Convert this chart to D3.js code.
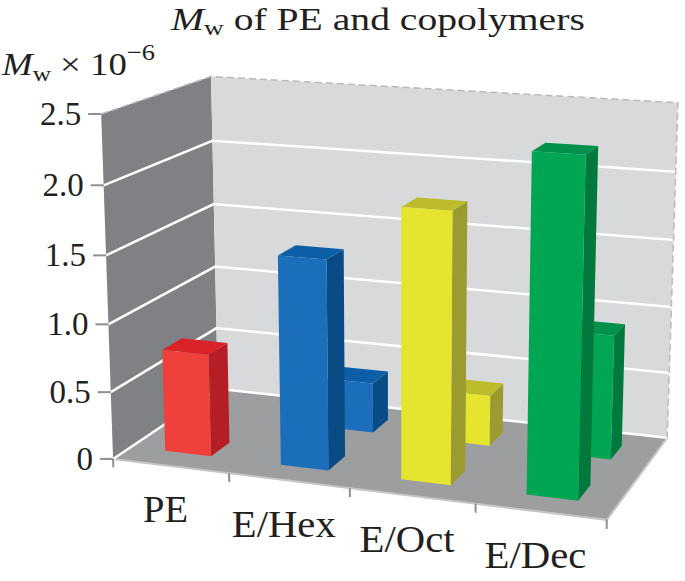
<!DOCTYPE html>
<html>
<head>
<meta charset="utf-8">
<script src="https://cdn.jsdelivr.net/npm/d3@7"></script>
<style>
  body { margin: 0; background: #fff; }
  text { font-family: "Liberation Serif", "Times New Roman", serif; fill: #231f20; }
</style>
</head>
<body>
<script>
// data
const categories = ["PE", "E/Hex", "E/Oct", "E/Dec"];
const rows = ["front", "back"];
const frontValues = [0.76, 1.53, 1.94, 2.38];
const backValues = [null, 0.38, 0.38, 0.92];
const yTicks = [0, 0.5, 1.0, 1.5, 2.0, 2.5];
const yTickLabels = ["0", "0.5", "1.0", "1.5", "2.0", "2.5"];

// colours: front face, top face, side face
const barColors = {
  "PE": ["#ef403c", "#d92329", "#b41e24"],
  "E/Hex": ["#1b6fba", "#0c5ea6", "#084b85"],
  "E/Oct": ["#e5e42f", "#bdbd2c", "#9c9b30"],
  "E/Dec": ["#00a651", "#00924a", "#007a3c"]
};

// layout
const width = 685;
const height = 581;
// label widths as printed (the reference type is set a little wide)
const labelWidths = { "PE": 45, "E/Hex": 104, "E/Oct": 95, "E/Dec": 102 };

// camera anchors: box corner (u, v, w) -> picture point (x, y)
const anchors = [
  [0, 0, 0, 113, 458], [1, 0, 0, 607, 520], [0, 0, 1, 217, 389], [1, 0, 1, 667, 438],
  [0, 1, 0, 100, 114], [0, 1, 1, 212, 76], [1, 1, 1, 677, 102],
  [0.25, 0, 0, 230, 473], [0.5, 0, 0, 351, 488], [0.75, 0, 0, 475, 504],
  [0, 0.2, 0, 110.5, 392], [0, 0.4, 0, 108, 324], [0, 0.6, 0, 106, 256], [0, 0.8, 0, 104, 186],
  [0, 0.2, 1, 216, 328], [0, 0.4, 1, 215, 267], [0, 0.6, 1, 214, 204], [0, 0.8, 1, 213, 141],
  [1, 0.8, 1, 676, 172], [1, 0.6, 1, 674, 240]
];

// least squares fit of a 3x4 projection (p34 = 1)
function fitCamera(pts) {
  const A = [], b = [];
  pts.forEach(([u, v, w, x, y]) => {
    const X = (x - 340) / 300, Y = (y - 300) / 300;
    A.push([u, v, w, 1, 0, 0, 0, 0, -X * u, -X * v, -X * w]); b.push(X);
    A.push([0, 0, 0, 0, u, v, w, 1, -Y * u, -Y * v, -Y * w]); b.push(Y);
  });
  const n = 11;
  const M = d3.range(n).map((i) =>
    d3.range(n + 1).map((j) =>
      j < n ? d3.sum(A, (r) => r[i] * r[j]) : d3.sum(A, (r, k) => r[i] * b[k])
    )
  );
  for (let c = 0; c < n; c++) {
    let p = c;
    for (let r = c + 1; r < n; r++) if (Math.abs(M[r][c]) > Math.abs(M[p][c])) p = r;
    [M[c], M[p]] = [M[p], M[c]];
    for (let r = 0; r < n; r++) {
      if (r === c) continue;
      const f = M[r][c] / M[c][c];
      for (let k = c; k <= n; k++) M[r][k] -= f * M[c][k];
    }
  }
  return M.map((r, i) => r[n] / r[i]);
}
const P = fitCamera(anchors);

function project(u, v, w) {
  const d = P[8] * u + P[9] * v + P[10] * w + 1;
  return [
    ((P[0] * u + P[1] * v + P[2] * w + P[3]) / d) * 300 + 340,
    ((P[4] * u + P[5] * v + P[6] * w + P[7]) / d) * 300 + 300
  ];
}

// scales into the unit box
const xBand = d3.scaleBand().domain(categories).range([0, 1]).paddingInner(0.6).paddingOuter(0.3);
const xEdge = d3.scaleBand().domain(categories).range([0, 1]);
const yScale = d3.scaleLinear().domain([0, 2.5]).range([0, 1]);
const zBand = d3.scaleBand().domain(rows).range([0, 1]).paddingInner(0.64).paddingOuter(0.32);

const poly = (pts) => d3.line()(pts.map((p) => project(...p))) + "Z";
const seg = (a, b) => d3.line()([project(...a), project(...b)]);

// stretch a text horizontally so it spans the given width, anchored at its start
function stretch(sel, w) {
  const k = w / sel.node().getComputedTextLength();
  const x = +sel.attr("x");
  sel.attr("transform", `translate(${x},0) scale(${k},1) translate(${-x},0)`);
}

const svg = d3.select("body").append("svg").attr("width", width).attr("height", height);

// walls and floor
svg.append("path").attr("d", poly([[0, 0, 0], [0, 0, 1], [0, 1, 1], [0, 1, 0]])).attr("fill", "#7f8184");
svg.append("path").attr("d", poly([[0, 0, 1], [1, 0, 1], [1, 1, 1], [0, 1, 1]])).attr("fill", "#d8d9da");
svg.append("path").attr("d", poly([[0, 0, 0], [1, 0, 0], [1, 0, 1], [0, 0, 1]])).attr("fill", "#9c9ea0");
svg.append("path")
  .attr("d", d3.line()([project(0, 0, 0), project(1, 0, 0), project(1, 0, 1)]))
  .attr("fill", "none").attr("stroke", "#c3c5c7").attr("stroke-width", 2);

// gridlines
const grid = svg.append("g").attr("stroke", "#fff").attr("stroke-width", 2.5).attr("fill", "none");
yTicks.filter((t) => t < 2.5).forEach((t) => {
  const v = yScale(t);
  grid.append("path").attr("d", d3.line()([project(0, v, 0), project(0, v, 1), project(1, v, 1)]));
});
// top edge, dashed
svg.append("path")
  .attr("d", d3.line()([project(0, 1, 0), project(0, 1, 1), project(1, 1, 1), project(1, 0, 1)]))
  .attr("fill", "none").attr("stroke", "#b9babb").attr("stroke-width", 1.5)
  .attr("stroke-dasharray", "7,4");

// value axis ticks and labels
const axis = svg.append("g");
yTicks.forEach((t, i) => {
  const [x, y] = project(0, yScale(t), 0);
  axis.append("line").attr("x1", x - 13).attr("x2", x).attr("y1", y).attr("y2", y)
    .attr("stroke", "#8e9092").attr("stroke-width", 2);
  axis.append("text").attr("x", x - 20).attr("y", y).attr("text-anchor", "end")
    .attr("dominant-baseline", "central").attr("font-size", 33).text(yTickLabels[i]);
});

// category ticks and labels
d3.range(categories.length + 1).forEach((i) => {
  const e = i * xEdge.step();
  axis.append("path").attr("d", seg([e, 0, 0], [e, -0.026, 0]))
    .attr("stroke", "#8e9092").attr("stroke-width", 2);
});
categories.forEach((c) => {
  const [x, y] = project(xEdge(c) + xEdge.bandwidth() / 2, 0, 0);
  const lw = labelWidths[c];
  const t = axis.append("text").attr("x", x - 5 - lw / 2).attr("y", y + 56)
    .attr("font-size", 37).text(c);
  stretch(t, lw);
});

// bars: back row first, left to right
const bars = [];
rows.slice().reverse().forEach((row) => {
  const vals = row === "front" ? frontValues : backValues;
  categories.forEach((c, i) => {
    if (vals[i] == null) return;
    bars.push({ c, row, value: vals[i] });
  });
});
const barG = svg.append("g");
bars.forEach((d) => {
  const u0 = xBand(d.c), u1 = u0 + xBand.bandwidth();
  const w0 = zBand(d.row), w1 = w0 + zBand.bandwidth();
  const v = yScale(d.value);
  const [front, top, side] = barColors[d.c];
  const g = barG.append("g");
  g.append("path").attr("d", poly([[u1, 0, w0], [u1, 0, w1], [u1, v, w1], [u1, v, w0]])).attr("fill", side);
  g.append("path").attr("d", poly([[u0, v, w0], [u1, v, w0], [u1, v, w1], [u0, v, w1]])).attr("fill", top);
  g.append("path").attr("d", poly([[u0, 0, w0], [u1, 0, w0], [u1, v, w0], [u0, v, w0]])).attr("fill", front);
});

// titles
const title = svg.append("text").attr("x", 171).attr("y", 30).attr("font-size", 32);
title.append("tspan").attr("font-style", "italic").text("M");
title.append("tspan").attr("font-size", 22).attr("dy", 5).text("w");
title.append("tspan").attr("dy", -5).text(" of PE and copolymers");
stretch(title, 414);

const yLabel = svg.append("text").attr("x", 2).attr("y", 75).attr("font-size", 32);
yLabel.append("tspan").attr("font-style", "italic").text("M");
yLabel.append("tspan").attr("font-size", 22).attr("dy", 6).text("w");
yLabel.append("tspan").attr("dy", -6).text(" × 10");
yLabel.append("tspan").attr("font-size", 23).attr("dy", -15).text("−6");
stretch(yLabel, 153);
</script>
</body>
</html>
